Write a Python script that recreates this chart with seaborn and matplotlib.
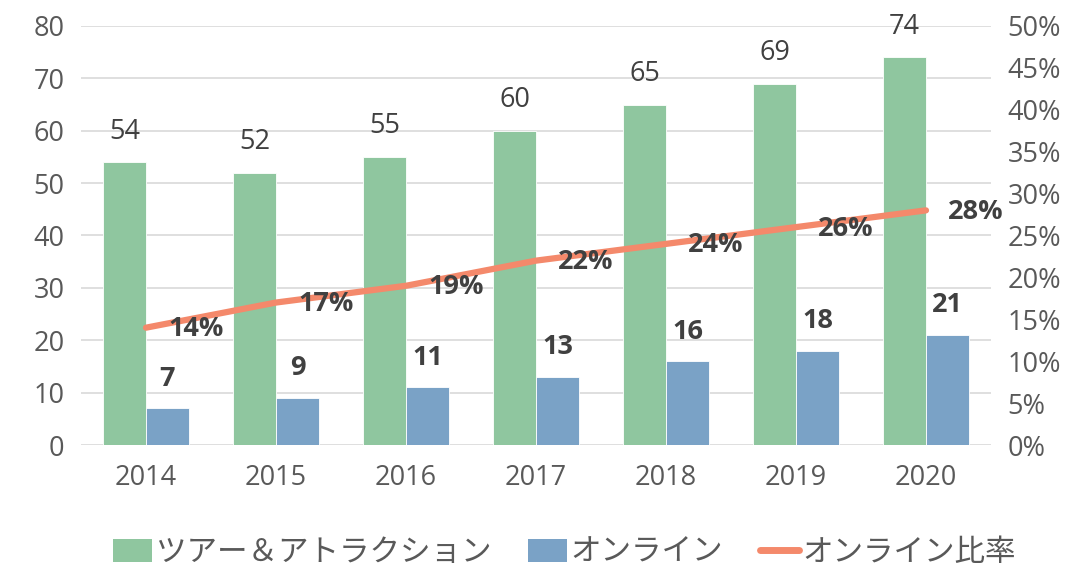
import numpy as np
import pandas as pd
import matplotlib
matplotlib.use("Agg")
import matplotlib.pyplot as plt
import seaborn as sns
from matplotlib.patches import Patch
from matplotlib.lines import Line2D
from matplotlib.ticker import FuncFormatter

years = ["2014", "2015", "2016", "2017", "2018", "2019", "2020"]
tours = [54, 52, 55, 60, 65, 69, 74]
online = [7, 9, 11, 13, 16, 18, 21]
ratio = [0.14, 0.17, 0.19, 0.22, 0.24, 0.26, 0.28]
series_names = ["ツアー＆アトラクション", "オンライン", "オンライン比率"]

GREEN = "#8FC69F"
BLUE = "#7AA2C6"
ORANGE = "#F4896B"
TICK = "#595959"
LABEL = "#404040"
FS = 19.5

sns.set_theme(style="white")
plt.rcParams["font.family"] = ["Open Sans", "Noto Sans CJK JP", "DejaVu Sans"]

df = pd.DataFrame({
    "year": years * 2,
    "value": tours + online,
    "series": [series_names[0]] * len(years) + [series_names[1]] * len(years),
})

fig = plt.figure(figsize=(10.79, 5.73), dpi=100)
ax = fig.add_axes([81 / 1079, 1 - 445 / 573, 910 / 1079, 419 / 573])

sns.barplot(data=df, x="year", y="value", hue="series", order=years,
            hue_order=series_names[:2], palette=[GREEN, BLUE], saturation=1,
            width=0.66, edgecolor="white", linewidth=0.6, ax=ax, legend=False,
            zorder=2)

ax.set_ylim(0, 80)
ax.set_xlim(-0.5, len(years) - 0.5)
ax.set_yticks(np.arange(0, 81, 10))
ax.yaxis.grid(True, color="#D9D9D9", linewidth=1.2, zorder=0)
ax.set_axisbelow(True)
ax.set_xlabel("")
ax.set_ylabel("")
for s in ax.spines.values():
    s.set_visible(False)
ax.tick_params(axis="both", length=0, labelsize=FS, labelcolor=TICK)
ax.tick_params(axis="x", pad=14)
ax.tick_params(axis="y", pad=12)

# bar labels
for i, c in enumerate(ax.containers):
    bold = i == 1
    ax.bar_label(c, labels=[str(v) for v in (tours if i == 0 else online)],
                 padding=12, fontsize=FS, color=LABEL,
                 fontweight="bold" if bold else "normal")

ax2 = ax.twinx()
xs = np.arange(len(years))
sns.lineplot(x=xs, y=ratio, ax=ax2, color=ORANGE, linewidth=4.5,
             solid_capstyle="round", zorder=3)
ax2.set_ylim(0, 0.5)
ax2.set_yticks(np.arange(0, 0.51, 0.05))
ax2.yaxis.set_major_formatter(FuncFormatter(lambda v, p: f"{v * 100:.0f}%"))
for s in ax2.spines.values():
    s.set_visible(False)
ax2.tick_params(axis="y", length=0, labelsize=FS, labelcolor=TICK, pad=12)
ax2.grid(False)
for x, r in zip(xs, ratio):
    ax2.annotate(f"{r * 100:.0f}%", (x, r), xytext=(36, -1),
                 textcoords="offset points", ha="center", va="center",
                 fontsize=FS, fontweight="bold", color=LABEL)

handles = [Patch(facecolor=GREEN, edgecolor="none"),
           Patch(facecolor=BLUE, edgecolor="none"),
           Line2D([0], [0], color=ORANGE, linewidth=5, solid_capstyle="round")]
fig.legend(handles, series_names, loc="center", bbox_to_anchor=(0.523, 1 - 553 / 573),
           ncol=3, frameon=False, fontsize=22, handlelength=1.3, handleheight=0.8,
           handletextpad=0.1, columnspacing=1.2,
           labelcolor=TICK)

fig.savefig("out.png", dpi=100)
